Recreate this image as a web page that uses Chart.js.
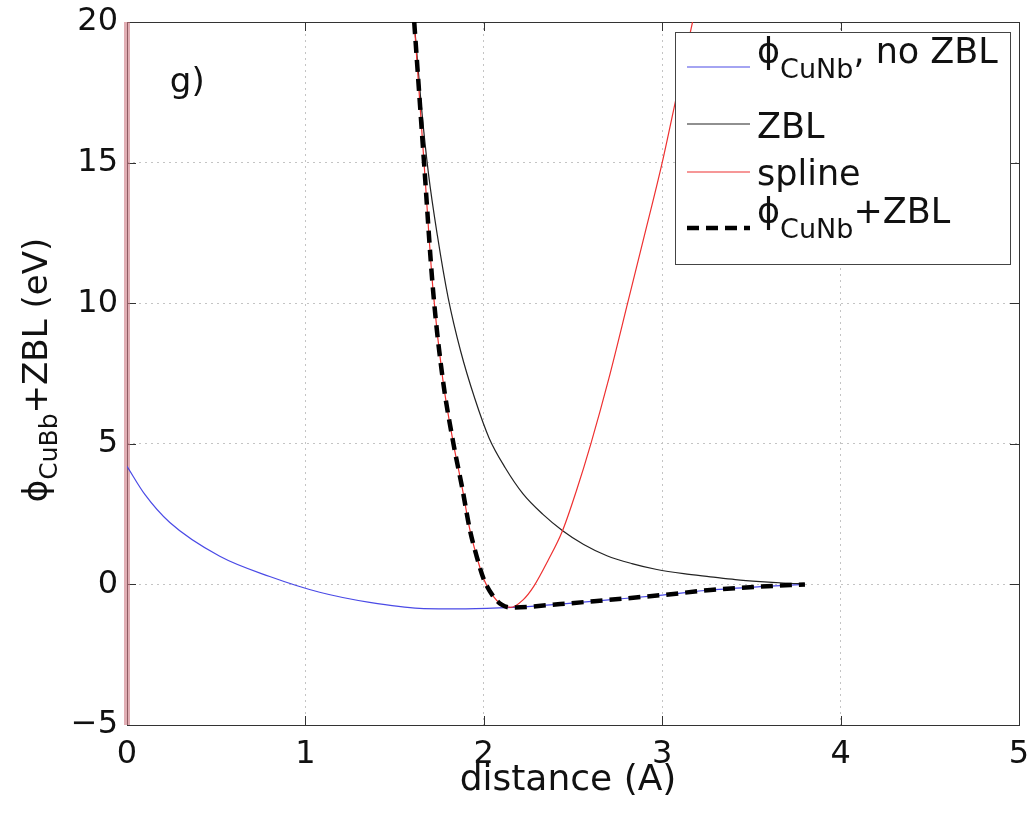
<!DOCTYPE html>
<html><head><meta charset="utf-8">
<script src="https://cdn.jsdelivr.net/npm/chart.js@4/dist/chart.umd.min.js"></script>
<style>html,body{margin:0;padding:0;background:#fff}#wrap{width:1032px;height:813px}</style>
</head><body><div id="wrap"><canvas id="c" width="1032" height="813"></canvas></div>
<script>
// ---- data ----
const xTicks = [0, 1, 2, 3, 4, 5];
const yTicks = [-5, 0, 5, 10, 15, 20];

const blueX = [0, 0.1, 0.24, 0.52, 0.8, 1.08, 1.36, 1.64, 1.9, 2.16, 2.43, 2.7, 3.0, 3.27, 3.55, 3.8];
const blueY = [4.2, 3.2, 2.2, 1.0, 0.28, -0.28, -0.64, -0.85, -0.87, -0.82, -0.7, -0.55, -0.38, -0.2, -0.08, 0.0];

const zblX = [1.61, 1.65, 1.69, 1.74, 1.80, 1.87, 1.95, 2.03, 2.12, 2.22, 2.33, 2.44, 2.56, 2.69, 2.83, 2.97, 3.12, 3.27, 3.41, 3.55, 3.68, 3.8];
const zblY = [20, 17, 14.6, 12.4, 10.2, 8.3, 6.6, 5.2, 4.15, 3.22, 2.5, 1.92, 1.42, 1.02, 0.74, 0.53, 0.38, 0.27, 0.17, 0.1, 0.05, 0.02];

const splX = [1.61, 1.665, 1.715, 1.77, 1.83, 1.88, 1.92, 1.96, 2.0, 2.05, 2.1, 2.15, 2.22, 2.28, 2.36, 2.44, 2.52, 2.6, 2.7, 2.81, 2.9, 3.0, 3.08, 3.17];
const splY = [20, 15, 10.5, 7.3, 5.0, 3.4, 2.0, 1.0, 0.18, -0.4, -0.72, -0.82, -0.55, -0.07, 0.85, 1.89, 3.35, 5.0, 7.3, 10.1, 12.4, 15.0, 17.35, 20];

const sumX = [1.61, 1.665, 1.715, 1.77, 1.83, 1.88, 1.92, 1.96, 2.0, 2.05, 2.1, 2.15, 2.43, 2.7, 3.0, 3.27, 3.55, 3.8];
const sumY = [20, 15, 10.5, 7.3, 5.0, 3.4, 2.0, 1.0, 0.18, -0.4, -0.72, -0.82, -0.7, -0.55, -0.38, -0.2, -0.08, 0.0];

const wallX = [0, 0];
const wallY = [-5, 20];

const legendLabels = [["ϕ", "CuNb", ", no ZBL"], ["ZBL"], ["spline"], ["ϕ", "CuNb", "+ZBL"]];
const xTitle = "distance (A)";
const yTitle = ["ϕ", "CuBb", "+ZBL (eV)"];
const panelLabel = "g)";

// ---- chart ----
const FONT = '"DejaVu Sans", sans-serif';
const pts = (xs, ys) => xs.map((v, i) => ({x: v, y: ys[i]}));

function drawParts(ctx, parts, x, y, size, subSize, subDy) {
  let cx = x;
  parts.forEach((p, i) => {
    const isSub = parts.length === 3 && i === 1;
    ctx.font = (isSub ? subSize : size) + 'px ' + FONT;
    ctx.fillText(p, cx, y + (isSub ? subDy : 0));
    cx += ctx.measureText(p).width;
  });
  return cx - x;
}
function measureParts(ctx, parts, size, subSize) {
  let w = 0;
  parts.forEach((p, i) => {
    const isSub = parts.length === 3 && i === 1;
    ctx.font = (isSub ? subSize : size) + 'px ' + FONT;
    w += ctx.measureText(p).width;
  });
  return w;
}

const decor = {
  id: 'decor',
  beforeDatasetsDraw(chart) {
    const {ctx, chartArea: a, scales: {x, y}} = chart;
    ctx.save();
    ctx.strokeStyle = '#333';
    ctx.lineWidth = 1;
    ctx.strokeRect(Math.round(a.left) + 0.5, Math.round(a.top) + 0.5, Math.round(a.width), Math.round(a.height));
    ctx.beginPath();
    xTicks.forEach(v => {
      const p = Math.round(x.getPixelForValue(v)) + 0.5;
      ctx.moveTo(p, a.bottom); ctx.lineTo(p, a.bottom - 9);
      ctx.moveTo(p, a.top); ctx.lineTo(p, a.top + 9);
    });
    yTicks.forEach(v => {
      const p = Math.round(y.getPixelForValue(v)) + 0.5;
      ctx.moveTo(a.left, p); ctx.lineTo(a.left + 9, p);
      ctx.moveTo(a.right, p); ctx.lineTo(a.right - 9, p);
    });
    ctx.stroke();
    ctx.restore();
  },
  afterDatasetsDraw(chart) {
    const {ctx, scales: {x, y}} = chart;
    ctx.save();
    ctx.fillStyle = '#111';
    ctx.textBaseline = 'alphabetic';
    // panel label
    ctx.font = '34px ' + FONT;
    ctx.fillText(panelLabel, x.getPixelForValue(0.24), y.getPixelForValue(17.5));

    // legend
    const lx = 675, ly = 32, lw = 335, lh = 232;
    ctx.fillStyle = '#fff';
    ctx.fillRect(lx, ly, lw, lh);
    ctx.strokeStyle = '#444';
    ctx.lineWidth = 1;
    ctx.strokeRect(lx + 0.5, ly + 0.5, lw, lh);
    const rows = [
      {line: 67, base: 63, color: '#4a4ae6', w: 1.2, dash: []},
      {line: 124, base: 138, color: '#222', w: 1.2, dash: []},
      {line: 172, base: 185, color: '#ee3030', w: 1.2, dash: []},
      {line: 228, base: 223, color: '#000', w: 4.5, dash: [12, 7]}
    ];
    rows.forEach((r, i) => {
      ctx.strokeStyle = r.color;
      ctx.lineWidth = r.w;
      ctx.setLineDash(r.dash);
      ctx.beginPath();
      ctx.moveTo(687, r.line); ctx.lineTo(750, r.line);
      ctx.stroke();
      ctx.setLineDash([]);
      ctx.fillStyle = '#111';
      drawParts(ctx, legendLabels[i], 757, r.base, 35, 27, 15);
    });

    // axis titles
    ctx.fillStyle = '#111';
    ctx.font = '36px ' + FONT;
    ctx.textAlign = 'center';
    ctx.fillText(xTitle, 568, 790);
    ctx.textAlign = 'left';
    const yw = measureParts(ctx, yTitle, 34, 25);
    ctx.translate(47, 370);
    ctx.rotate(-Math.PI / 2);
    drawParts(ctx, yTitle, -yw / 2, 0, 34, 25, 10);
    ctx.restore();
  }
};

new Chart(document.getElementById('c'), {
  type: 'line',
  data: {
    datasets: [
      {label: 'phi+ZBL', data: pts(sumX, sumY), borderColor: '#000', borderWidth: 4.5, borderDash: [12, 7], cubicInterpolationMode: 'monotone', pointRadius: 0, order: 0},
      {label: 'spline', data: pts(splX, splY), borderColor: '#ee3030', borderWidth: 1.2, cubicInterpolationMode: 'monotone', pointRadius: 0, order: 1},
      {label: 'ZBL', data: pts(zblX, zblY), borderColor: '#222', borderWidth: 1.2, cubicInterpolationMode: 'monotone', pointRadius: 0, order: 2},
      {label: 'phi no ZBL', data: pts(blueX, blueY), borderColor: '#4a4ae6', borderWidth: 1.2, cubicInterpolationMode: 'monotone', pointRadius: 0, order: 3},
      {label: 'wall', data: pts(wallX, wallY), borderColor: 'rgba(205,120,130,0.6)', borderWidth: 6, tension: 0, pointRadius: 0, clip: 4, order: 4}
    ]
  },
  options: {
    responsive: false,
    animation: false,
    devicePixelRatio: 1,
    layout: {autoPadding: false, padding: {left: 0, top: 22, right: 13, bottom: 0}},
    plugins: {legend: {display: false}, tooltip: {enabled: false}},
    scales: {
      x: {
        type: 'linear', min: 0, max: 5,
        afterBuildTicks: s => { s.ticks = xTicks.map(v => ({value: v})); },
        afterFit: s => { s.height = 88; s.paddingLeft = 0; s.paddingRight = 0; },
        ticks: {color: '#111', font: {family: FONT, size: 32}, padding: 10, maxRotation: 0, callback: v => String(v).replace('-', '\u2212')},
        grid: {color: '#c4c4c4', lineWidth: 1, drawTicks: false},
        border: {display: false, dash: [2, 4]}
      },
      y: {
        type: 'linear', min: -5, max: 20,
        afterBuildTicks: s => { s.ticks = yTicks.map(v => ({value: v})); },
        afterFit: s => { s.width = 127; s.paddingTop = 0; s.paddingBottom = 0; },
        ticks: {color: '#111', font: {family: FONT, size: 32}, padding: 9, callback: v => String(v).replace('-', '\u2212')},
        grid: {color: '#c4c4c4', lineWidth: 1, drawTicks: false},
        border: {display: false, dash: [2, 4]}
      }
    }
  },
  plugins: [decor]
});
</script>
</body></html>
